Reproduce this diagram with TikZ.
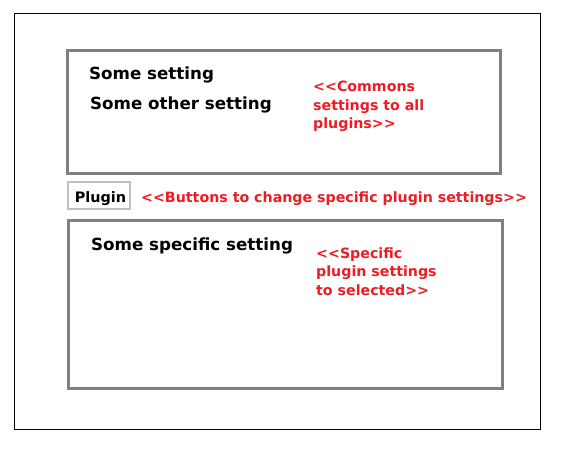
\documentclass[tikz,border=0pt]{standalone}
\usepackage{fontspec}
\setmainfont{DejaVu Sans}[Ligatures=TeXOff]
\usetikzlibrary{positioning}
\definecolor{boxgray}{HTML}{808080}
\definecolor{btngray}{HTML}{C0C0C0}
\definecolor{notered}{HTML}{ED1C24}
\tikzset{
    panel/.style={draw=boxgray,line width=3pt},
    setting/.style={anchor=base west,inner sep=0pt,font=\bfseries\fontsize{16.7}{19}\selectfont},
    note/.style={anchor=base west,inner sep=0pt,text=notered,align=left,font=\bfseries\fontsize{14.2}{18.5}\selectfont}
}
\begin{document}
\begin{tikzpicture}[x=1pt,y=-1pt]
        \useasboundingbox (0,0) rectangle (566,451);
        \draw[line width=1pt] (14,13) rectangle (540,429);
        \draw[panel] (67,50) rectangle (500,173);
        \node[setting] (s1) at (89,79) {Some setting};
        \node[setting] (s2) at (90,109) {Some other setting};
        % base of a multi-line note is its last line
        \node[note] (n1) at (313,128.5) {<<Commons\\settings to all\\plugins>>};
        \node[draw=btngray,line width=2.5pt,inner sep=0pt,minimum width=62pt,minimum height=27pt,
              text height=15pt,text depth=2pt,font=\bfseries\fontsize{14.4}{17}\selectfont] (btn) at (99,195.5) {\hspace{3pt}Plugin};
        \node[note] (n2) at (141,202) {<<Buttons to change specific plugin settings>>};
        \draw[panel] (68,220) rectangle (502,388);
        \node[setting] (s3) at (91,250) {Some specific setting};
        \node[note] (n3) at (316,295) {<<Specific\\plugin settings\\to selected>>};
    \end{tikzpicture}
\end{document}
